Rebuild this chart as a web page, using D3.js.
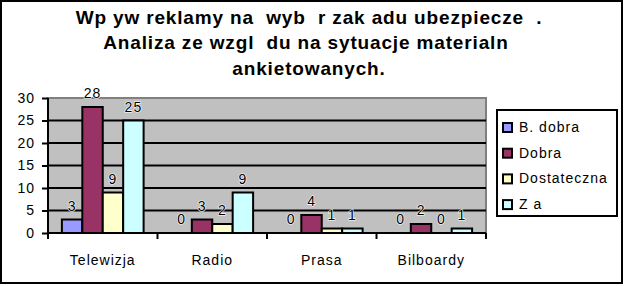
<!DOCTYPE html>
<html>
<head>
<meta charset="utf-8">
<script src="https://cdn.jsdelivr.net/npm/d3@7"></script>
<style>
	body { margin: 0; background: #fff; }
	svg text { font-family: "Liberation Sans", Arial, sans-serif; }
</style>
</head>
<body>
<div id="chart"></div>
<script>
// chart data
var titleLines = ["Wp yw reklamy na  wyb  r zak adu ubezpiecze  .", "Analiza ze wzgl  du na sytuacje materialn ", "ankietowanych."];
var categories = ["Telewizja", "Radio", "Prasa", "Bilboardy"];
var seriesNames = ["B. dobra", "Dobra", "Dostateczna", "Z a"];
var seriesColors = ["#9999ff", "#993366", "#ffffcc", "#ccffff"];
var bDobra = [3, 0, 0, 0];
var dobra = [28, 3, 4, 2];
var dostateczna = [9, 2, 1, 0];
var zla = [25, 9, 1, 1];
var yTicks = [0, 5, 10, 15, 20, 25, 30];

var seriesValues = [bDobra, dobra, dostateczna, zla];

var width = 625, height = 286;
var plot = { left: 48, right: 486, top: 98, bottom: 233 };

var svg = d3.select("#chart").append("svg")
	.attr("width", width)
	.attr("height", height);

// outer border
svg.append("rect")
	.attr("x", 1).attr("y", 1)
	.attr("width", 621).attr("height", 282)
	.attr("fill", "#fff")
	.attr("stroke", "#000")
	.attr("stroke-width", 2);

// title
svg.append("g").selectAll("text")
	.data(titleLines)
	.join("text")
	.attr("x", 309)
	.attr("y", function (d, i) { return 23.5 + i * 25.5; })
	.attr("text-anchor", "middle")
	.attr("font-size", 19)
	.attr("font-weight", "bold")
	.attr("letter-spacing", 0.85)
	.attr("xml:space", "preserve")
	.style("white-space", "pre")
	.text(function (d) { return d; });

// scales
var x0 = d3.scaleBand()
	.domain(categories)
	.range([plot.left, plot.right]);

var x1 = d3.scaleBand()
	.domain(seriesNames)
	.range([0, x0.bandwidth()])
	.paddingOuter(0.68);

var y = d3.scaleLinear()
	.domain([0, 30])
	.range([plot.bottom, plot.top]);

// plot background
svg.append("rect")
	.attr("x", plot.left).attr("y", plot.top)
	.attr("width", plot.right - plot.left)
	.attr("height", plot.bottom - plot.top)
	.attr("fill", "#c0c0c0")
	.attr("stroke", "#808080")
	.attr("stroke-width", 2);

// gridlines
svg.append("g").selectAll("line")
	.data(yTicks.filter(function (d) { return d > 0 && d < 30; }))
	.join("line")
	.attr("x1", plot.left).attr("x2", plot.right)
	.attr("y1", function (d) { return y(d); })
	.attr("y2", function (d) { return y(d); })
	.attr("stroke", "#000")
	.attr("stroke-width", 2);

// y axis
var yAxis = svg.append("g")
	.attr("transform", "translate(" + plot.left + ",0)")
	.call(d3.axisLeft(y).tickValues(yTicks).tickSize(6).tickPadding(7));
yAxis.select(".domain").attr("stroke-width", 2).attr("d", "M0," + plot.bottom + "V" + plot.top);
yAxis.selectAll(".tick line").attr("stroke-width", 2);
yAxis.selectAll("text")
	.attr("font-size", 14)
	.attr("letter-spacing", 1)
	.attr("fill", "#000");

// x axis
var xAxis = svg.append("g")
	.attr("transform", "translate(0," + plot.bottom + ")")
	.call(d3.axisBottom(x0).tickSize(0).tickPadding(0));
xAxis.select(".domain").attr("stroke-width", 2).attr("d", "M" + plot.left + ",0H" + plot.right);
xAxis.selectAll("text")
	.attr("font-size", 14)
	.attr("letter-spacing", 1)
	.attr("fill", "#000")
	.attr("dy", 0)
	.attr("y", 32);
// tick marks between categories
xAxis.append("g").selectAll("line")
	.data(categories.concat([null]))
	.join("line")
	.attr("x1", function (d, i) { return plot.left + i * x0.step(); })
	.attr("x2", function (d, i) { return plot.left + i * x0.step(); })
	.attr("y1", 0).attr("y2", 6)
	.attr("stroke", "#000")
	.attr("stroke-width", 2);

// bars
var groups = svg.append("g").selectAll("g")
	.data(categories)
	.join("g")
	.attr("transform", function (d) { return "translate(" + x0(d) + ",0)"; });

var barData = function (d, ci) {
	return seriesNames.map(function (s, si) {
		return { series: s, index: si, value: seriesValues[si][ci] };
	});
};

groups.selectAll("rect")
	.data(function (d, ci) { return barData(d, ci).filter(function (b) { return b.value > 0; }); })
	.join("rect")
	.attr("x", function (b) { return x1(b.series); })
	.attr("y", function (b) { return y(b.value); })
	.attr("width", x1.bandwidth())
	.attr("height", function (b) { return y(0) - y(b.value); })
	.attr("fill", function (b) { return seriesColors[b.index]; })
	.attr("stroke", "#000")
	.attr("stroke-width", 2);

// value labels
groups.selectAll("text")
	.data(barData)
	.join("text")
	.attr("x", function (b) { return x1(b.series) + x1.bandwidth() / 2; })
	.attr("y", function (b) { return y(b.value) - 9; })
	.attr("text-anchor", "middle")
	.attr("font-size", 14)
	.attr("letter-spacing", 1)
	.attr("fill", "#000")
	.attr("stroke", "#fff")
	.attr("stroke-width", 1.2)
	.attr("paint-order", "stroke")
	.text(function (b) { return b.value; });

// legend
var legend = svg.append("g");
legend.append("rect")
	.attr("x", 497).attr("y", 110)
	.attr("width", 120).attr("height", 106)
	.attr("fill", "#fff")
	.attr("stroke", "#000")
	.attr("stroke-width", 2);

var items = legend.selectAll("g")
	.data(seriesNames)
	.join("g")
	.attr("transform", function (d, i) { return "translate(0," + (132 + i * 25.7) + ")"; });

items.append("rect")
	.attr("x", 503).attr("y", -9)
	.attr("width", 9).attr("height", 9)
	.attr("fill", function (d, i) { return seriesColors[i]; })
	.attr("stroke", "#000")
	.attr("stroke-width", 2);

items.append("text")
	.attr("x", 519)
	.attr("y", 0)
	.attr("font-size", 14)
	.attr("letter-spacing", 1)
	.attr("fill", "#000")
	.text(function (d) { return d; });
</script>
</body>
</html>
